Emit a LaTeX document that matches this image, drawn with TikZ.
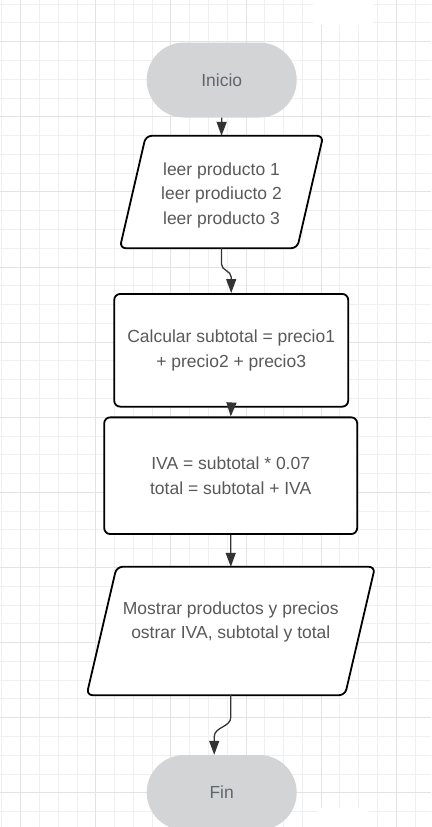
\documentclass[tikz,border=0pt]{standalone}
\usepackage{fontspec}
\setmainfont{Liberation Sans}
\usetikzlibrary{arrows.meta,calc}
\definecolor{GridMinor}{HTML}{F0F0F0}
\definecolor{GridMajor}{HTML}{E3E3E3}
\definecolor{TermGray}{HTML}{D3D4D6}
\definecolor{TermText}{HTML}{5F6670}
\definecolor{BoxText}{HTML}{595959}
\definecolor{ArrowGray}{HTML}{333333}

\begin{document}
\begin{tikzpicture}[x=1pt,y=1pt,
		every node/.style={font=\fontsize{17.5}{24.5}\selectfont},
		terminal/.style={fill=TermGray, text=TermText, rounded corners=37.5pt, minimum width=150pt, minimum height=75pt},
		process/.style={draw=black, line width=1.8pt, rounded corners=6pt, fill=white, text=BoxText, align=center},
		iobox/.style={inner sep=0pt},
		ioline/.style={draw=black, fill=white, line width=1.8pt, rounded corners=6pt},
		boxtext/.style={text=BoxText, align=center},
		arr/.style={draw=ArrowGray, line width=1.3pt, -{Triangle[length=14pt,width=10pt]}}]

				\useasboundingbox (0,0) rectangle (431,-827);
				\clip (0,0) rectangle (431,-827);

				% grid paper
				\foreach \i in {0,...,22} {
					\draw[GridMinor, line width=1pt] ({1.92+\i*18.78},0) -- ++(0,-827);
				}
				\foreach \i in {0,...,43} {
					\draw[GridMinor, line width=1pt] (0,{-4.1-\i*18.78}) -- ++(431,0);
				}
				\foreach \i in {0,...,5} {
					\draw[GridMajor, line width=1pt] ({20.7+\i*75.1},0) -- ++(0,-827);
				}
				\foreach \i in {0,...,10} {
					\draw[GridMajor, line width=1pt] (0,{-41.7-\i*75.1}) -- ++(431,0);
				}
				\fill[white] (313,0) rectangle (373,-25);
				\fill[white] (318,-808) rectangle (369,-827);

				\node[terminal] (inicio) at (221.7,-80) {Inicio};

				\node[iobox, minimum width=203pt, minimum height=112pt] (leer) at (221.5,-192) {};
				\draw[ioline] ($(leer.north west)+(26,0)$) -- (leer.north east) -- ($(leer.south east)-(26,0)$) -- (leer.south west) -- cycle;
				\node[boxtext] (leertxt) at (221.5,-195) {leer producto 1\\leer prodiucto 2\\leer producto 3};

				\node[process, minimum width=234pt, minimum height=112.7pt] (calc) at (231.2,-350.3) {Calcular subtotal = precio1\\+ precio2 + precio3};
				\node[process, minimum width=253pt, minimum height=116.7pt] (iva) at (230.7,-475.7) {IVA = subtotal * 0.07\\total = subtotal + IVA};

				\node[iobox, minimum width=288pt, minimum height=128pt] (mostrar) at (230.8,-631) {};
				\draw[ioline] ($(mostrar.north west)+(30,0)$) -- (mostrar.north east) -- ($(mostrar.south east)-(30,0)$) -- (mostrar.south west) -- cycle;
				\node[boxtext] (mostrartxt) at (230.8,-622) {Mostrar productos y precios\\ostrar IVA, subtotal y total};

				\node[terminal] (fin) at (221.7,-792.5) {Fin};

				\draw[arr] (inicio.south) -- (leer.north);
				\draw[arr] (leer.south) -- ++(0,-16) to[out=-90,in=90] ($(calc.north)+(0,16)$) -- (calc.north);
				\draw[arr] (calc.south) -- (iva.north);
				\draw[arr] (iva.south) -- (mostrar.north);
				\draw[arr] (mostrar.south) -- ++(0,-22) to[out=-90,in=90] ($(fin.north)+(-7.5,18)$) -- ($(fin.north)+(-7.5,0)$);

			\end{tikzpicture}
\end{document}
